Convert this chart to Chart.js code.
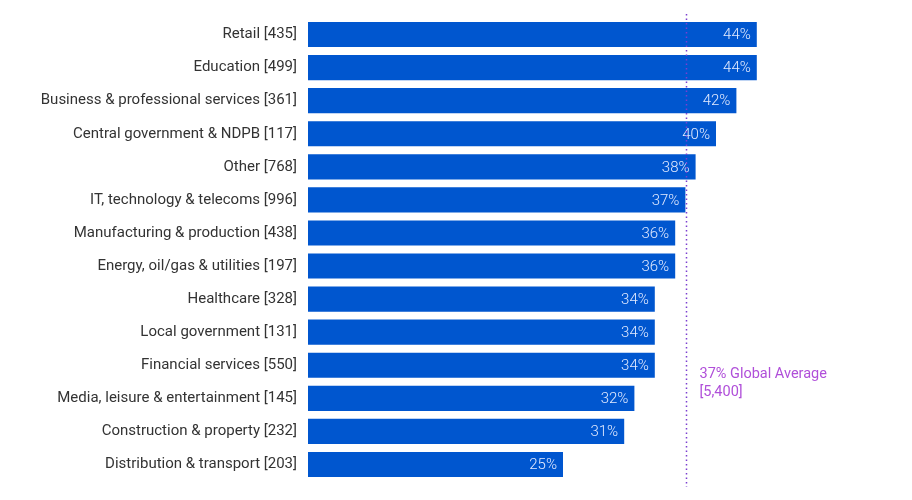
<!DOCTYPE html>
<html>
<head>
<meta charset="utf-8">
<script src="https://cdn.jsdelivr.net/npm/chart.js@4"></script>
<style>
  html, body { margin: 0; padding: 0; background: #fff; }
  #wrap { width: 912px; height: 500px; }
</style>
</head>
<body>
<div id="wrap"><canvas id="chart"></canvas></div>
<script>
const categories = [
    'Retail [435]',
    'Education [499]',
    'Business & professional services [361]',
    'Central government & NDPB [117]',
    'Other [768]',
    'IT, technology & telecoms [996]',
    'Manufacturing & production [438]',
    'Energy, oil/gas & utilities [197]',
    'Healthcare [328]',
    'Local government [131]',
    'Financial services [550]',
    'Media, leisure & entertainment [145]',
    'Construction & property [232]',
    'Distribution & transport [203]',
];
const values = [44, 44, 42, 40, 38, 37, 36, 36, 34, 34, 34, 32, 31, 25];
const globalAverage = 37;
const averageLabel = ['37% Global Average', '[5,400]'];

const FONT = 'Roboto, "Noto Sans", sans-serif';

// value labels inside bar ends + dotted average line
const overlay = {
    id: 'overlay',
    afterDatasetsDraw(chart) {
        const ctx = chart.ctx;
        const meta = chart.getDatasetMeta(0);
        ctx.save();
        ctx.font = '300 15px ' + FONT;
        ctx.fillStyle = '#e3ebff';
        ctx.textAlign = 'right';
        ctx.textBaseline = 'middle';
        meta.data.forEach((bar, i) => {
            ctx.fillText(values[i] + '%', bar.x - 6, bar.y + 1);
        });

        const x = Math.round(chart.scales.x.getPixelForValue(globalAverage)) + 1.5;
        const area = chart.chartArea;
        ctx.strokeStyle = '#7b3fd0';
        ctx.lineWidth = 1.5;
        ctx.setLineDash([1.5, 3]);
        ctx.beginPath();
        ctx.moveTo(x, area.top - 4);
        ctx.lineTo(x, area.bottom + 6);
        ctx.stroke();
        ctx.setLineDash([]);

        ctx.font = '14.5px ' + FONT;
        ctx.fillStyle = '#b04fd9';
        ctx.textAlign = 'left';
        const y0 = chart.scales.y.getPixelForValue(10) + 9;
        averageLabel.forEach((t, i) => ctx.fillText(t, x + 13, y0 + i * 18));
        ctx.restore();
    }
};

new Chart(document.getElementById('chart'), {
    type: 'bar',
    data: {
        labels: categories,
        datasets: [{
            data: values,
            backgroundColor: '#0056cf',
            borderWidth: 0,
            barPercentage: 0.76,
            categoryPercentage: 1,
        }],
    },
    options: {
        indexAxis: 'y',
        responsive: true,
        maintainAspectRatio: false,
        animation: false,
        layout: { padding: { top: 18, bottom: 19, left: 0, right: 43 } },
        plugins: {
            legend: { display: false },
            tooltip: { enabled: false },
        },
        scales: {
            x: {
                display: false,
                min: 0,
                max: 55,
            },
            y: {
                grid: { display: false },
                border: { display: false },
                ticks: {
                    color: '#333333',
                    font: { family: FONT, size: 15 },
                    padding: 3,
                },
                afterFit(scale) { scale.width = 308; },
            },
        },
    },
    plugins: [overlay],
});
</script>
</body>
</html>
